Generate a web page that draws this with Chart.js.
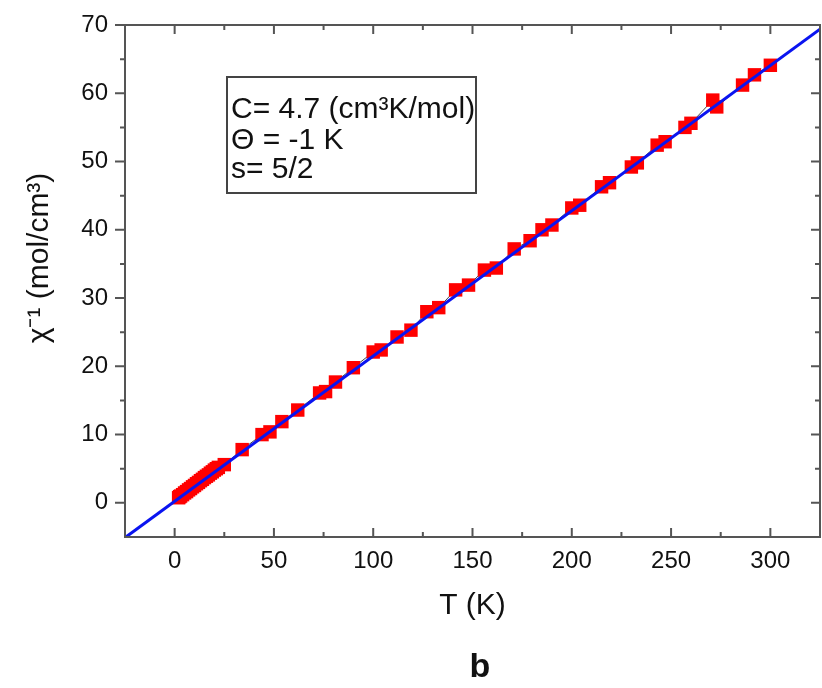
<!DOCTYPE html>
<html>
<head>
<meta charset="utf-8">
<script src="https://cdn.jsdelivr.net/npm/chart.js@4.4.1/dist/chart.umd.min.js"></script>
<style>
  body { margin: 0; background: #fff; }
  canvas { display: block; }
</style>
</head>
<body>
<canvas id="chart" width="822" height="688"></canvas>
<script>
// measured points, T (K) and inverse susceptibility (mol/cm3)
const tempK = [2, 2.5, 3, 4, 5, 6, 7, 8, 9, 10, 11, 12, 13, 14, 15, 16, 17, 18, 19, 20, 21, 22, 25,
    34, 44, 48, 54, 62, 73, 76, 81, 90, 100, 104, 112, 119, 127, 133, 141.5, 148, 156, 162,
    171, 179, 185, 190, 200, 204, 215, 219, 230, 233, 243, 247, 257, 260, 271, 273, 286, 292, 300];
const invChi = [0.75, 0.9, 1.0, 1.2, 1.45, 1.65, 1.9, 2.1, 2.35, 2.55, 2.8, 3.0, 3.25, 3.45, 3.7, 3.9, 4.1, 4.35, 4.55, 4.8, 5.0, 5.2, 5.6,
    7.8, 10.0, 10.4, 11.9, 13.6, 16.1, 16.3, 17.7, 19.8, 22.1, 22.4, 24.3, 25.3, 28.0, 28.6, 31.2, 31.9, 34.1, 34.4,
    37.2, 38.4, 40.0, 40.7, 43.2, 43.6, 46.3, 46.9, 49.2, 49.8, 52.4, 52.9, 55.0, 55.6, 59.0, 58.0, 61.2, 62.7, 64.1];

// Curie-Weiss fit line end points
const fitT = [-25, 325];
const fitY = [-5.1, 69.4];

const xTicks = [0, 50, 100, 150, 200, 250, 300];
const yTicks = [0, 10, 20, 30, 40, 50, 60, 70];

const boxLines = ["C= 4.7 (cm\u00b3K/mol)", "\u0398 = -1 K", "s= 5/2"];

const FONT = "'Liberation Sans', Arial, sans-serif";

const framePlugin = {
    id: 'frame',
    afterDatasetsDraw(chart) {
        const { ctx, chartArea: a, scales } = chart;
        const xs = scales.x, ys = scales.y;
        ctx.save();
        ctx.strokeStyle = '#555';
        ctx.lineWidth = 2;
        ctx.strokeRect(a.left, a.top, a.right - a.left, a.bottom - a.top);

        ctx.beginPath();
        // x ticks, inward on bottom and top
        for (let i = 0; i < xTicks.length; i++) {
            const v = xTicks[i];
            let px = xs.getPixelForValue(v);
            ctx.moveTo(px, a.bottom); ctx.lineTo(px, a.bottom - 9);
            ctx.moveTo(px, a.top); ctx.lineTo(px, a.top + 9);
            const m = v + 25;
            px = xs.getPixelForValue(m);
            if (px < a.right - 2) {
                ctx.moveTo(px, a.bottom); ctx.lineTo(px, a.bottom - 5);
                ctx.moveTo(px, a.top); ctx.lineTo(px, a.top + 5);
            }
        }
        // y ticks, outward on left, inward on right
        for (let i = 0; i < yTicks.length; i++) {
            const v = yTicks[i];
            let py = ys.getPixelForValue(v);
            ctx.moveTo(a.left, py); ctx.lineTo(a.left - 10, py);
            ctx.moveTo(a.right, py); ctx.lineTo(a.right - 9, py);
            const m = v - 5;
            py = ys.getPixelForValue(m);
            if (py < a.bottom - 2) {
                ctx.moveTo(a.left, py); ctx.lineTo(a.left - 5, py);
                ctx.moveTo(a.right, py); ctx.lineTo(a.right - 5, py);
            }
        }
        ctx.stroke();
        ctx.restore();
    },
    afterDraw(chart) {
        const { ctx } = chart;
        ctx.save();
        // parameter box
        ctx.strokeStyle = '#444';
        ctx.lineWidth = 2;
        ctx.strokeRect(227, 77, 249, 116);
        ctx.fillStyle = '#111';
        ctx.font = '30px ' + FONT;
        ctx.textBaseline = 'alphabetic';
        ctx.textAlign = 'left';
        ctx.fillText(boxLines[0], 231, 118);
        ctx.fillText(boxLines[1], 231, 149);
        ctx.fillText(boxLines[2], 231, 178);

        // y axis title
        ctx.save();
        ctx.translate(40, 258);
        ctx.rotate(-Math.PI / 2);
        ctx.textAlign = 'center';
        ctx.textBaseline = 'middle';
        ctx.font = '30px ' + FONT;
        ctx.fillText("\u03c7\u207b\u00b9 (mol/cm\u00b3)", 0, 0);
        ctx.restore();

        // panel letter
        ctx.textAlign = 'center';
        ctx.textBaseline = 'middle';
        ctx.font = 'bold 34px ' + FONT;
        ctx.fillText('b', 480, 668);
        ctx.restore();
    }
};

new Chart(document.getElementById('chart'), {
    type: 'scatter',
    data: {
        datasets: [
            {
                label: 'fit',
                data: fitT.map((t, i) => ({ x: t, y: fitY[i] })),
                showLine: true,
                borderColor: '#0a14f0',
                borderWidth: 3,
                pointRadius: 0
            },
            {
                label: 'data',
                data: tempK.map((t, i) => ({ x: t, y: invChi[i] })),
                showLine: true,
                borderColor: '#444',
                borderWidth: 1,
                pointStyle: 'rect',
                pointRadius: 9.5,
                pointBorderWidth: 0,
                pointBackgroundColor: '#ff0000'
            }
        ]
    },
    options: {
        responsive: false,
        devicePixelRatio: 1,
        animation: false,
        layout: { autoPadding: false, padding: { top: 25, right: 2, left: 0, bottom: 0 } },
        plugins: { legend: { display: false }, tooltip: { enabled: false } },
        scales: {
            x: {
                type: 'linear',
                min: -25,
                max: 325,
                afterBuildTicks: (s) => { s.ticks = xTicks.map(v => ({ value: v })); },
                afterFit: (s) => { s.height = 151; s.paddingLeft = 0; s.paddingRight = 0; },
                grid: { display: false, drawTicks: false },
                border: { display: false },
                ticks: { padding: 10, color: '#111', font: { family: FONT, size: 24 } },
                title: {
                    display: true,
                    text: 'T (K)',
                    color: '#111',
                    font: { family: FONT, size: 30 },
                    padding: { top: 0, bottom: 64 }
                }
            },
            y: {
                type: 'linear',
                min: -5,
                max: 70,
                afterBuildTicks: (s) => { s.ticks = yTicks.map(v => ({ value: v })); },
                afterFit: (s) => { s.width = 125; s.paddingTop = 0; s.paddingBottom = 0; },
                grid: { display: false, drawTicks: false },
                border: { display: false },
                ticks: { padding: 17, color: '#111', font: { family: FONT, size: 24 } }
            }
        }
    },
    plugins: [framePlugin]
});
</script>
</body>
</html>
